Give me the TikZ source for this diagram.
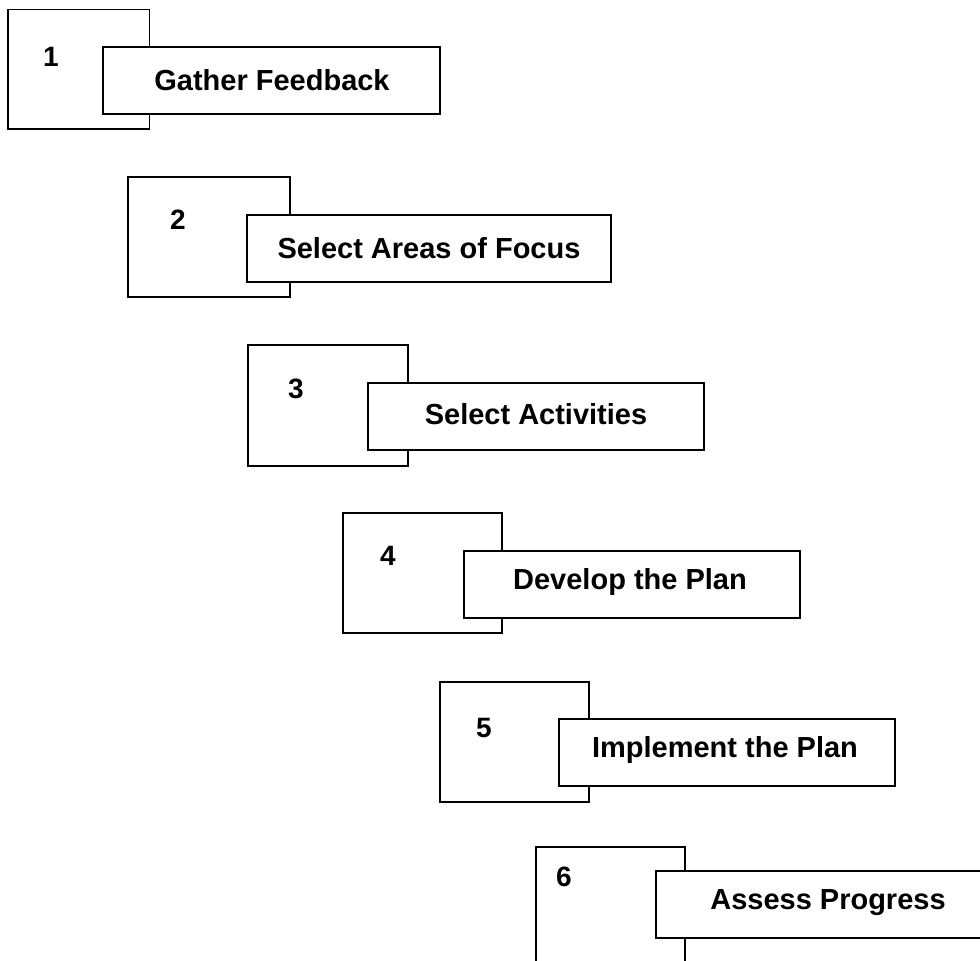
\documentclass[tikz,border=0pt]{standalone}
\usepackage{fontspec}
\setmainfont{Liberation Sans}
\begin{document}
\begin{tikzpicture}[x=1pt,y=-1pt,
  numbox/.style={draw=black,line width=1.3pt,fill=white,rectangle,inner sep=0pt},
  labbox/.style={draw=black,line width=2pt,fill=white,rectangle,inner sep=0pt,minimum height=67pt},
  numtext/.style={inner sep=0pt,font=\fontsize{28}{30}\selectfont\bfseries},
  labtext/.style={inner sep=0pt,font=\fontsize{29}{32}\selectfont\bfseries}]
\useasboundingbox (0,0) rectangle (980,961);
\clip (0,0) rectangle (980,961);
% step 1
\node[numbox,minimum width=141.5pt,minimum height=119.5pt] (s1) at (78.75,69.25) {};
\node[numtext] (n1) at (51,56.5) {1};
\node[labbox,minimum width=337pt] (b1) at (271.5,80.5) {};
\node[labtext] (t1) at (272,80.5) {Gather Feedback};
% step 2
\node[numbox,minimum width=162pt,minimum height=120pt] (s2) at (209,237) {};
\node[numtext] (n2) at (178,220) {2};
\node[labbox,minimum width=364pt] (b2) at (429,248.5) {};
\node[labtext] (t2) at (429,248.5) {Select Areas of Focus};
% step 3
\node[numbox,minimum width=160pt,minimum height=121pt] (s3) at (328,405.5) {};
\node[numtext] (n3) at (296,389) {3};
\node[labbox,minimum width=336pt] (b3) at (536,416.5) {};
\node[labtext] (t3) at (536,414) {Select Activities};
% step 4
\node[numbox,minimum width=159pt,minimum height=120pt] (s4) at (422.5,573) {};
\node[numtext] (n4) at (388,556) {4};
\node[labbox,minimum width=336pt] (b4) at (632,584.5) {};
\node[labtext] (t4) at (630,582) {Develop the Plan};
% step 5
\node[numbox,minimum width=149pt,minimum height=120pt] (s5) at (514.5,742) {};
\node[numtext] (n5) at (484,728) {5};
\node[labbox,minimum width=336pt] (b5) at (727,752.5) {};
\node[labtext] (t5) at (725,750) {Implement the Plan};
% step 6
\node[numbox,minimum width=149pt,minimum height=120pt] (s6) at (610.5,907) {};
\node[numtext] (n6) at (564,877) {6};
\node[labbox,minimum width=330pt] (b6) at (821,904.5) {};
\node[labtext] (t6) at (828,903) {Assess Progress};
\end{tikzpicture}
\end{document}
